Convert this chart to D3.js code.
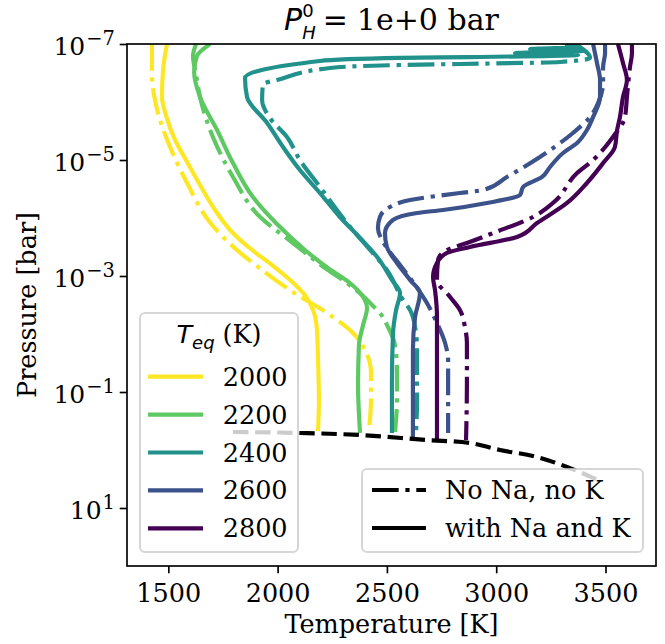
<!DOCTYPE html>
<meta charset="utf-8">
<style>
body { margin: 0; background: #fff; }
text { font-family: "DejaVu Serif", serif; fill: #000; }
.axis line { stroke: #000; stroke-width: 1.67; }
.axis path { display: none; }
.profile { fill: none; stroke-width: 4.17; stroke-linejoin: round; }
</style>
<script src="https://d3js.org/d3.v7.min.js"></script>
<body>
<div id="chart"></div>
<script>
// equilibrium temperatures (one colour each)
var teq = [2000, 2200, 2400, 2600, 2800];

// ticks
var xTicks = [1500, 2000, 2500, 3000, 3500];
var yTicks = [1e-7, 1e-5, 1e-3, 1e-1, 1e1];
var yTickExp = ["\u22127", "\u22125", "\u22123", "\u22121", "1"];

// T-P profiles, with Na and K (temperature K, pressure bar)
var tempNa2000 = [1494,1476,1471,1489,1531,1586,1645,1714,1791,1883,1974,2057,2125,2162,2180,2185,2189,2185];
var presNa2000 = [1e-7,2.81e-7,8.2e-7,1.68e-6,4.52e-6,1.08e-5,2.70e-5,7.28e-5,1.74e-4,3.56e-4,6.46e-4,1.17e-3,2.13e-3,3.86e-3,8.53e-3,2.81e-2,0.137,0.470];
var tempNa2200 = [1691,1631,1618,1645,1723,1796,1887,1997,2125,2230,2331,2391,2409,2391,2372,2368,2377];
var presNa2200 = [1e-7,1.61e-7,3.04e-7,8.2e-7,3.04e-6,1.13e-5,4.34e-5,1.27e-4,3.56e-4,7.28e-4,1.32e-3,2.30e-3,3.56e-3,7.0e-3,1.55e-2,7.57e-2,0.509];
var tempNa2400 = [3315,3383,3155,3397,3086,3374,2880,2560,2194,1851,1860,1952,2025,2102,2194,2285,2377,2459,2523,2560,2542,2528,2523,2523];
var presNa2400 = [1e-7,1.13e-7,1.22e-7,1.32e-7,1.43e-7,1.55e-7,1.68e-7,1.74e-7,1.96e-7,3.86e-7,8.2e-7,2.30e-6,5.97e-6,1.49e-5,3.71e-5,9.61e-5,2.21e-4,4.89e-4,1.17e-3,1.96e-3,3.86e-3,9.61e-3,7.0e-2,0.509];
var tempNa2600 = [3443,3461,3475,3475,3443,3415,3370,3306,3246,3210,3123,3109,2958,2757,2638,2528,2491,2500,2546,2606,2651,2629,2619,2619];
var presNa2600 = [1e-7,2.13e-7,4.18e-7,8.2e-7,1.82e-6,3.04e-6,5.09e-6,7.57e-6,1.32e-5,1.96e-5,2.92e-5,4.01e-5,5.51e-5,7.28e-5,8.2e-5,1.08e-4,1.82e-4,3.16e-4,5.97e-4,1.17e-3,1.96e-3,5.09e-3,1.89e-2,0.597];
var tempNa2800 = [3557,3580,3598,3580,3566,3553,3543,3489,3415,3324,3187,3095,2880,2775,2729,2711,2720,2729,2729,2729];
var presNa2800 = [1e-7,2.13e-7,4.18e-7,8.2e-7,1.82e-6,3.04e-6,5.97e-6,1.13e-5,2.49e-5,5.51e-5,1.22e-4,2.13e-4,3.16e-4,4.01e-4,5.97e-4,1.04e-3,1.74e-3,5.09e-3,1.89e-2,0.70];

// T-P profiles, no Na, no K
var tempNo2000 = [1425,1425,1453,1508,1586,1700,1814,1929,2070,2226,2345,2404,2427,2427,2418];
var presNo2000 = [1e-7,3.16e-7,1.55e-6,5.97e-6,2.49e-5,1.32e-4,3.56e-4,7.88e-4,1.89e-3,4.34e-3,9.61e-3,2.04e-2,4.52e-2,0.137,0.452];
var tempNo2200 = [1627,1613,1627,1645,1704,1796,1920,2070,2217,2317,2386,2423,2468,2505,2537,2546,2546,2537];
var presNo2200 = [1e-7,1.61e-7,3.42e-7,8.2e-7,4.01e-6,1.96e-5,9.61e-5,2.70e-4,7.28e-4,1.32e-3,2.13e-3,2.92e-3,4.34e-3,7.57e-3,1.55e-2,4.18e-2,0.137,0.489];
var tempNo2400 = [3360,3429,3292,2834,2560,2240,1997,1933,1929,1965,2043,2102,2194,2317,2423,2500,2574,2606,2629,2638,2638,2633];
var presNo2400 = [1e-7,1.74e-7,2.04e-7,2.21e-7,2.30e-7,2.59e-7,4.18e-7,4.89e-7,9.25e-7,1.89e-6,4.01e-6,1e-5,2.92e-5,1.22e-4,3.56e-4,7.88e-4,2.59e-3,3.86e-3,7.57e-3,1.89e-2,0.137,0.509];
var tempNo2600 = [3498,3498,3489,3489,3466,3429,3351,3200,3049,2940,2834,2606,2514,2468,2459,2491,2560,2629,2683,2729,2766,2780,2780,2780];
var presNo2600 = [1e-7,1.43e-7,2.49e-7,4.70e-7,1.04e-6,1.82e-6,3.42e-6,8.87e-6,1.96e-5,3.29e-5,3.71e-5,4.89e-5,6.46e-5,9.61e-5,1.49e-4,2.92e-4,6.46e-4,1.43e-3,2.92e-3,6.46e-3,1.43e-2,2.81e-2,0.137,0.509];
var tempNo2800 = [3621,3621,3612,3598,3589,3534,3443,3370,3260,3168,2985,2866,2775,2734,2729,2789,2834,2857,2866,2866,2862];
var presNo2800 = [1e-7,1.43e-7,2.49e-7,8.2e-7,1.82e-6,4.01e-6,1e-5,1.68e-5,5.51e-5,9.61e-5,1.82e-4,2.70e-4,3.56e-4,5.30e-4,1.17e-3,2.30e-3,3.86e-3,7.57e-3,1.43e-2,7.0e-2,0.673];

// bottom boundary (dashed black)
var tempBottom = [1796,2102,2377,2683,2880,3017,3187,3324,3475];
var presBottom = [0.489,0.509,0.551,0.673,0.757,1.0,1.32,1.96,3.42];

// set the dimensions and margins of the graph
var margin = {top: 44, right: 9, bottom: 78, left: 127},
    width = 665 - margin.left - margin.right,
    height = 644 - margin.top - margin.bottom;

var svg = d3.select("#chart")
  .append("svg")
    .attr("width", width + margin.left + margin.right)
    .attr("height", height + margin.top + margin.bottom)
  .append("g")
    .attr("transform", "translate(" + margin.left + "," + margin.top + ")");

var x = d3.scaleLinear().domain([1311, 3731]).range([0, width]);
var y = d3.scaleLog().domain([1e-7, 1e2]).range([0, height]);
var color = d3.scaleSequential(d3.interpolateViridis).domain([2800, 2000]);

function zip(t, p) { return t.map(function(d, i) { return [d, p[i]]; }); }

var withNa = [zip(tempNa2000, presNa2000), zip(tempNa2200, presNa2200), zip(tempNa2400, presNa2400),
              zip(tempNa2600, presNa2600), zip(tempNa2800, presNa2800)];
var noNa = [zip(tempNo2000, presNo2000), zip(tempNo2200, presNo2200), zip(tempNo2400, presNo2400),
            zip(tempNo2600, presNo2600), zip(tempNo2800, presNo2800)];

svg.append("clipPath").attr("id", "clip")
  .append("rect").attr("width", width).attr("height", height);

var line = d3.line()
  .x(function(d) { return x(d[0]); })
  .y(function(d) { return y(d[1]); })
  .curve(d3.curveMonotoneY);

var dashDot = "26.7,6.7,4.2,6.7";
var plot = svg.append("g").attr("clip-path", "url(#clip)");

teq.forEach(function(t, i) {
  plot.append("path")
    .datum(noNa[i])
    .attr("class", "profile")
    .attr("d", line)
    .attr("stroke", color(t))
    .attr("stroke-dasharray", dashDot);
  plot.append("path")
    .datum(withNa[i])
    .attr("class", "profile")
    .attr("d", line)
    .attr("stroke", color(t));
});

// dashed bottom boundary
plot.append("path")
  .datum(zip(tempBottom, presBottom))
  .attr("class", "profile")
  .attr("d", d3.line().x(function(d) { return x(d[0]); }).y(function(d) { return y(d[1]); }).curve(d3.curveMonotoneX))
  .attr("stroke", "#000")
  .attr("stroke-dasharray", "15.4,6.7");

// X axis
svg.append("g")
  .attr("class", "axis")
  .attr("transform", "translate(0," + height + ")")
  .call(d3.axisBottom(x).tickValues(xTicks).tickSize(7.3).tickPadding(11).tickFormat(d3.format("d")))
  .selectAll("text")
    .style("font-size", "25.5px")
    .style("font-family", "DejaVu Serif");

// Y axis
var yAxis = svg.append("g")
  .attr("class", "axis")
  .call(d3.axisLeft(y).tickValues(yTicks).tickSize(7.3).tickFormat(""));

yAxis.selectAll(".tick").each(function(d, i) {
  var t = d3.select(this).append("text")
    .attr("x", -12).attr("y", 10)
    .attr("text-anchor", "end")
    .style("font-size", "25px");
  t.append("tspan").text("10");
  t.append("tspan").attr("dx", 1).attr("dy", -10).style("font-size", "19.5px").text(yTickExp[i]);
});

// frame
svg.append("rect")
  .attr("width", width).attr("height", height)
  .attr("fill", "none").attr("stroke", "#000").attr("stroke-width", 1.67);

// axis labels
svg.append("text")
  .attr("x", width / 2).attr("y", height + 67)
  .attr("text-anchor", "middle")
  .style("font-size", "25.5px")
  .text("Temperature [K]");

svg.append("text")
  .attr("transform", "rotate(-90)")
  .attr("x", -height / 2).attr("y", -91)
  .attr("text-anchor", "middle")
  .style("font-size", "25.5px")
  .text("Pressure [bar]");

// title  P_H^0 = 1e+0 bar
var title = svg.append("text")
  .attr("x", width / 2).attr("y", -14)
  .attr("text-anchor", "middle")
  .style("font-size", "30px");
title.append("tspan").style("font-family", "DejaVu Sans").style("font-style", "italic").text("P");
title.append("tspan").attr("dy", -13).style("font-family", "DejaVu Sans").style("font-size", "18px").text("0");
title.append("tspan").attr("dx", -11.5).attr("dy", 21.5).style("font-family", "DejaVu Sans")
  .style("font-style", "italic").style("font-size", "18px").text("H");
title.append("tspan").attr("dx", 7).attr("dy", -8.5).style("font-family", "DejaVu Sans").text("=");
title.append("tspan").attr("dx", 9).text("1e+0 bar");

// legend: T_eq
var leg1 = svg.append("g").attr("transform", "translate(13,269)");
leg1.append("rect")
  .attr("width", 158).attr("height", 239).attr("rx", 5)
  .attr("fill", "#fff").attr("fill-opacity", 0.8)
  .attr("stroke", "#ccc").attr("stroke-opacity", 0.8).attr("stroke-width", 2);
var lt = leg1.append("text")
  .attr("x", 79).attr("y", 30)
  .attr("text-anchor", "middle")
  .style("font-size", "25.5px");
lt.append("tspan").style("font-family", "DejaVu Sans").style("font-style", "italic").text("T");
lt.append("tspan").attr("dy", 6).style("font-family", "DejaVu Sans").style("font-style", "italic")
  .style("font-size", "18px").text("eq");
lt.append("tspan").attr("dx", 8).attr("dy", -6).text("(K)");

teq.forEach(function(t, i) {
  var yy = 63.7 + i * 37.9;
  leg1.append("line")
    .attr("x1", 8).attr("x2", 63).attr("y1", yy).attr("y2", yy)
    .attr("stroke", color(t)).attr("stroke-width", 4.17);
  leg1.append("text")
    .attr("x", 82.7).attr("y", yy + 9)
    .style("font-size", "25.5px")
    .text(t);
});

// legend: line styles
var styles = [{label: "No Na, no K", dash: dashDot}, {label: "with Na and K", dash: null}];
var leg2 = svg.append("g").attr("transform", "translate(235,425)");
leg2.append("rect")
  .attr("width", 281).attr("height", 83).attr("rx", 5)
  .attr("fill", "#fff").attr("fill-opacity", 0.8)
  .attr("stroke", "#ccc").attr("stroke-opacity", 0.8).attr("stroke-width", 2);
styles.forEach(function(s, i) {
  var yy = 21 + i * 38;
  leg2.append("line")
    .attr("x1", 10).attr("x2", 64).attr("y1", yy).attr("y2", yy)
    .attr("stroke", "#000").attr("stroke-width", 4.17)
    .attr("stroke-dasharray", s.dash);
  leg2.append("text")
    .attr("x", 83).attr("y", yy + 9)
    .style("font-size", "25.5px")
    .text(s.label);
});
</script>
